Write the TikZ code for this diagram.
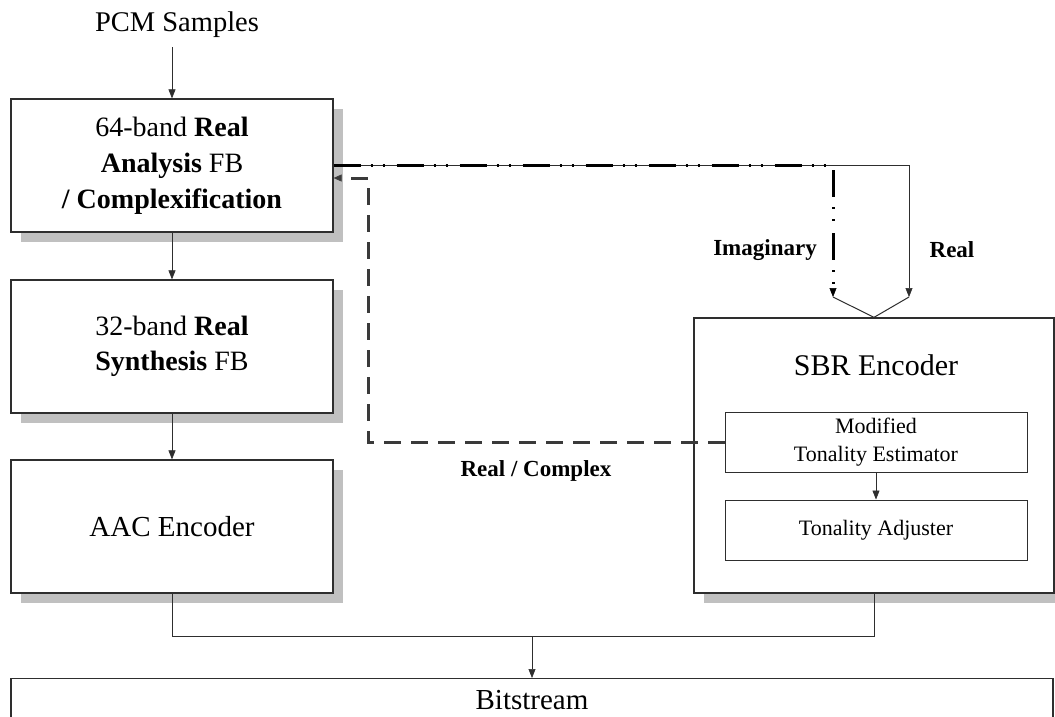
\documentclass[tikz,border=0pt]{standalone}
\usepackage{fontspec}
\setmainfont{Liberation Serif}
\usetikzlibrary{arrows.meta,shadows}
\definecolor{shade}{HTML}{C0C0C0}
\definecolor{ink}{HTML}{2E2E2E}
\definecolor{fbink}{HTML}{3A3A3A}
\newcommand\fsz[2]{\fontsize{#1}{#2}\selectfont}

\begin{document}
\begin{tikzpicture}[x=1pt,y=-1pt,
  conn/.style={draw=ink, line width=1pt},
  tip/.style={-{Triangle[length=9pt,width=7pt,line width=0.6pt]}},
  block/.style={draw=ink, line width=1.3pt, fill=white, align=center, inner sep=0pt,
    drop shadow={shadow xshift=10pt, shadow yshift=-10pt, fill=shade, opacity=1}},
  subblock/.style={draw=ink, line width=1pt, fill=white, align=center, inner sep=0pt,
    minimum width=302pt, minimum height=60pt},
  lbl/.style={font=\fsz{23}{28}\bfseries, inner sep=0pt},
  imag/.style={draw=black, line width=3pt,
    dash pattern=on 27pt off 10pt on 2pt off 10pt on 2pt off 12pt},
  fb/.style={draw=fbink, line width=3pt, dash pattern=on 17pt off 10pt}
]
\path[use as bounding box] (0,0) rectangle (1055,716);
\clip (0,0) rectangle (1055,716);
\fill[white] (0,0) rectangle (1055,716);

% input label
\node[font=\fsz{28.5}{34}, inner xsep=0pt, inner ysep=9pt] (pcm) at (177,25) {PCM Samples};

% left chain of filter banks and core coder
\node[block, minimum width=322pt, minimum height=133pt, font=\fsz{28}{36}] (afb) at (172,165.5)
  {64-band \textbf{Real}\\\textbf{Analysis} FB\\\textbf{/ Complexification}};
\node[block, minimum width=322pt, minimum height=133pt, font=\fsz{28}{35}] (sfb) at (172,346.5)
  {32-band \textbf{Real}\\\textbf{Synthesis} FB};
\node[block, minimum width=322pt, minimum height=133pt, font=\fsz{29}{34}] (aac) at (172,526.5)
  {AAC Encoder};

% SBR encoder with its two sub-blocks
\node[block, minimum width=360pt, minimum height=275pt] (sbr) at (874,455.5) {};
\node[font=\fsz{30}{36}, inner sep=0pt] (sbrtitle) at (876,365) {SBR Encoder};
\node[subblock, font=\fsz{22}{28}] (mte) at (876,442) {Modified\\Tonality Estimator};
\node[subblock, font=\fsz{22}{28}] (tadj) at (876,530) {Tonality Adjuster};

% output bitstream
\node[draw=ink, line width=1.3pt, fill=white, anchor=north, minimum width=1042pt,
  inner sep=0pt, text height=31pt, text depth=31pt, font=\fsz{29}{34}] (bits) at (532,678) {Bitstream};

% junction points
\coordinate (imtip) at (833,297);
\coordinate (realtip) at (909,297);
\coordinate (fbc) at (368,178);
\coordinate (join) at (532,636);

% main signal flow
\draw[conn, tip] (pcm.south -| afb.north) -- (afb.north);
\draw[conn, tip] (afb.south) -- (sfb.north);
\draw[conn, tip] (sfb.south) -- (aac.north);
\draw[conn, tip] (mte.south) -- (tadj.north);

% real and imaginary subband signals into the SBR encoder
\draw[conn, tip] (afb.east) -| (realtip);
\draw[imag, tip] (afb.east) -| (imtip);
\draw[conn] (imtip) -- (sbr.north) -- (realtip);

% real / complex control back to the analysis filter bank
\draw[fb, -{Triangle[length=8pt,width=7pt,line width=0.6pt]}] (mte.west) -| (fbc) -- (fbc -| afb.east);

% multiplexing into the bitstream
\draw[conn] (aac.south) |- (join) -| (sbr.south);
\draw[conn, tip] (join) -- (bits.north);

% labels
\node[lbl] (limag) at (765,250) {Imaginary};
\node[lbl] (lreal) at (952,250) {Real};
\node[lbl] (lrc) at (536,471) {Real / Complex};
\end{tikzpicture}
\end{document}
